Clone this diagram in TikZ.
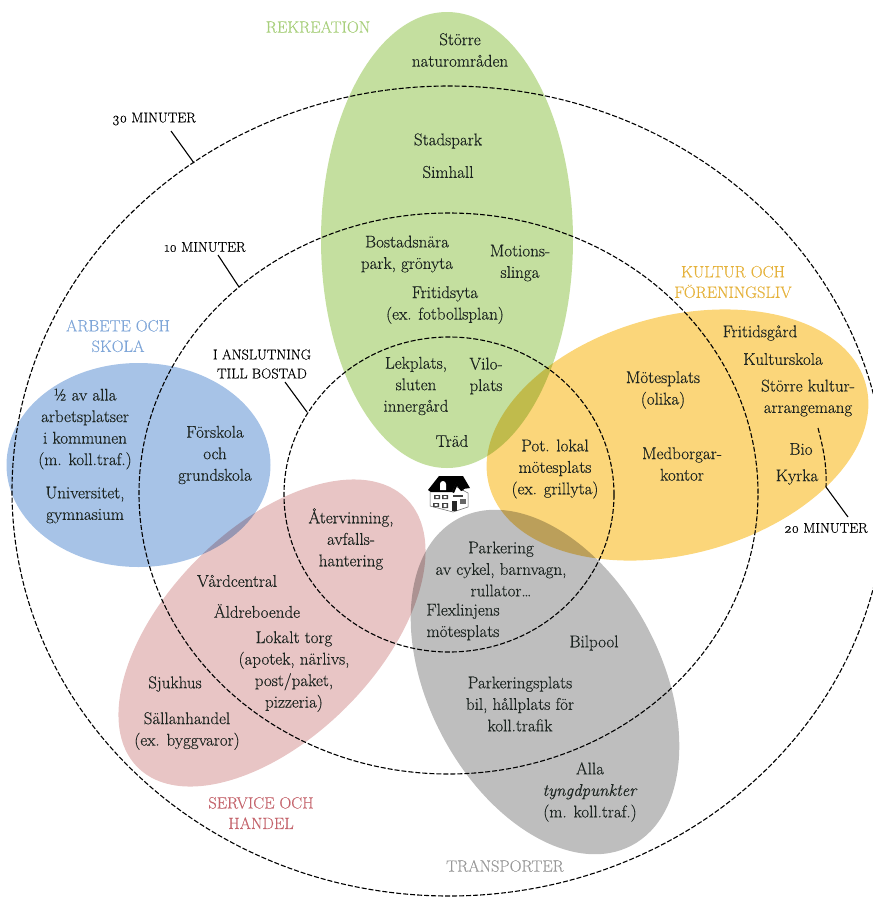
\documentclass[tikz,border=0pt]{standalone}
\usepackage{fontspec}
\setmainfont{Latin Modern Roman}[Numbers=OldStyle,FakeBold=0.3]
\definecolor{cgreen}{HTML}{C4DF9F}
\definecolor{cblue}{HTML}{A7C3E7}
\definecolor{corange}{HTML}{FBD67A}
\definecolor{cpink}{HTML}{E8C5C5}
\definecolor{cgray}{HTML}{BEBEBE}
\definecolor{tgreen}{HTML}{A8CF7C}
\definecolor{tblue}{HTML}{7FA6D8}
\definecolor{torange}{HTML}{E5B23C}
\definecolor{tpink}{HTML}{C4646C}
\definecolor{tgray}{HTML}{999999}
\definecolor{txt}{HTML}{1C2420}
\tikzset{
 x=1pt,y=-1pt,
 zone/.style={blend mode=multiply},
 ring/.style={draw=black,line width=1.1pt,dash pattern=on 5pt off 2pt},
 tick/.style={draw=black,line width=1.1pt},
 lab/.style={font=\fontsize{17}{21.5}\selectfont,text=txt,align=center,inner sep=0pt},
 head/.style={font=\fontsize{16.4}{20.5}\selectfont,align=center,inner sep=0pt},
 time/.style={font=\fontsize{14.2}{19}\selectfont,text=black,align=center,inner sep=0pt},
}
\begin{document}
\begin{tikzpicture}
\useasboundingbox (0,0) rectangle (873,898);
\begin{scope}
\clip (0,0) rectangle (873,898);
\fill[zone,cgreen] (447,240) circle [x radius=126pt,y radius=228pt];
\fill[zone,cblue] (138.5,465) circle [x radius=132pt,y radius=102pt];
\fill[zone,corange] (677.5,435) circle [x radius=195pt,y radius=119pt,rotate=15];
\fill[zone,cpink] (272,633) circle [x radius=190pt,y radius=105pt,rotate=45];
\fill[zone,cgray] (545,682) circle [x radius=185pt,y radius=116pt,rotate=-62];
\draw[ring] (449,491) circle [x radius=437pt,y radius=405pt];
\draw[ring] (448.5,493.5) circle [x radius=309.5pt,y radius=280.5pt];
\draw[ring] (449,494.5) circle [x radius=165pt,y radius=157.5pt];
\end{scope}
% house
\begin{scope}[shift={(428,475)}]
\fill[white,draw=black!60,line width=.5pt] (2,16) -- (2,31) -- (25,37) -- (40,32) -- (40,18) -- (25,10) -- cycle;
\fill[black] (0,15) -- (11,1) -- (35,1) -- (42,13) -- (35,14) -- (29,7) -- (24,17) -- (3,17) -- cycle;
\fill[black] (24,17) -- (29,6) -- (36,15) -- (33,16) -- (29,11) -- (26,18) -- cycle;
\fill[white] (12,15) -- (12,9) arc (180:360:3pt and -3pt) -- (18,15) -- cycle;
\fill[black!75] (25,20) rectangle (35,22);
\fill[black!75] (6,20) rectangle (12,24) (14,20) rectangle (20,24);
\fill[white] (7.5,21) rectangle (10.5,23) (15.5,21) rectangle (18.5,23);
\fill[black!75] (5,28) rectangle (11,32) (14,28) rectangle (20,33);
\fill[white] (6.5,29) rectangle (9.5,31) (15.5,29) rectangle (18.5,32);
\fill[black!85] (24,26) rectangle (29,36);
\fill[black!60] (32,24) rectangle (38,29);
\end{scope}
% zone headings
\node[head,text=tgreen] (rek) at (318,27) {REKREATION};
\node[head,text=torange] (kul) at (733,282) {KULTUR OCH\\FÖRENINGSLIV};
\node[head,text=tblue] (arb) at (118,336) {ARBETE OCH\\SKOLA};
\node[head,text=tpink] (ser) at (261,813) {SERVICE OCH\\HANDEL};
\node[head,text=tgray] (tra) at (505,866) {TRANSPORTER};
% green
\node[lab] (n1) at (460,50) {Större\\naturområden};
\node[lab] (n2) at (448,141) {Stadspark};
\node[lab] (n3) at (448,172) {Simhall};
\node[lab] (n4) at (407,254) {Bostadsnära\\park, grönyta};
\node[lab] (n5) at (520,263) {Motions-\\slinga};
\node[lab] (n6) at (445,305) {Fritidsyta\\(ex. fotbollsplan)};
\node[lab] (n7) at (416,386) {Lekplats,\\sluten\\innergård};
\node[lab] (n8) at (486,376) {Vilo-\\plats};
\node[lab] (n9) at (452,441) {Träd};
% orange
\node[lab] (o1) at (555,469) {Pot. lokal\\mötesplats\\(ex. grillyta)};
\node[lab] (o2) at (663,390) {Mötesplats\\(olika)};
\node[lab] (o3) at (682,464) {Medborgar-\\kontor};
\node[lab] (o4) at (760,333) {Fritidsgård};
\node[lab] (o5) at (783,359) {Kulturskola};
\node[lab] (o6) at (808,398) {Större kultur-\\arrangemang};
\node[lab] (o7) at (801,449) {Bio};
\node[lab] (o8) at (797,477) {Kyrka};
% blue
\node[lab] (b1) at (85,429) {½ av alla\\arbetsplatser\\i kommunen\\(m. koll.traf.)};
\node[lab] (b2) at (85,505) {Universitet,\\gymnasium};
\node[lab] (b3) at (215,455) {Förskola\\och\\grundskola};
% pink
\node[lab] (p1) at (351,539) {Återvinning,\\avfalls-\\hantering};
\node[lab] (p2) at (237,581) {Vårdcentral};
\node[lab] (p3) at (257,611) {Äldreboende};
\node[lab] (p4) at (294,671.5) {Lokalt torg\\(apotek, närlivs,\\post/paket,\\pizzeria)};
\node[lab] (p5) at (175,684) {Sjukhus};
\node[lab] (p6) at (187,731) {Sällanhandel\\(ex. byggvaror)};
% gray
\node[lab] (g1) at (501,569) {Parkering\\av cykel, barnvagn,\\rullator…};
\node[lab] (g2) at (463,622) {Flexlinjens\\mötesplats};
\node[lab] (g3) at (594,643) {Bilpool};
\node[lab] (g4) at (520,704) {Parkeringsplats\\bil, hållplats för\\koll.trafik};
\node[lab] (g5) at (590,792) {Alla\\\textit{tyngdpunkter}\\(m. koll.traf.)};
% time labels
\node[time] (t30) at (154,119) {30 MINUTER};
\node[time] (t10) at (205,247) {10 MINUTER};
\node[time] (t0) at (262,364) {I ANSLUTNING\\TILL BOSTAD};
\node[time] (t20) at (826,528) {20 MINUTER};
\coordinate (e30) at (194,163);
\coordinate (e10) at (239,287);
\coordinate (e0) at (307,412);
\coordinate (e20) at (826,487);
\coordinate (e20b) at (818,428);
\draw[tick] (171,131) -- (e30);
\draw[tick] (218,255) -- (e10);
\draw[tick] (285,382) -- (e0);
\draw[tick] (848,517) -- (e20);
\draw[ring] (e20b) .. controls (823,447) and (827,465) .. (e20);
\end{tikzpicture}
\end{document}
